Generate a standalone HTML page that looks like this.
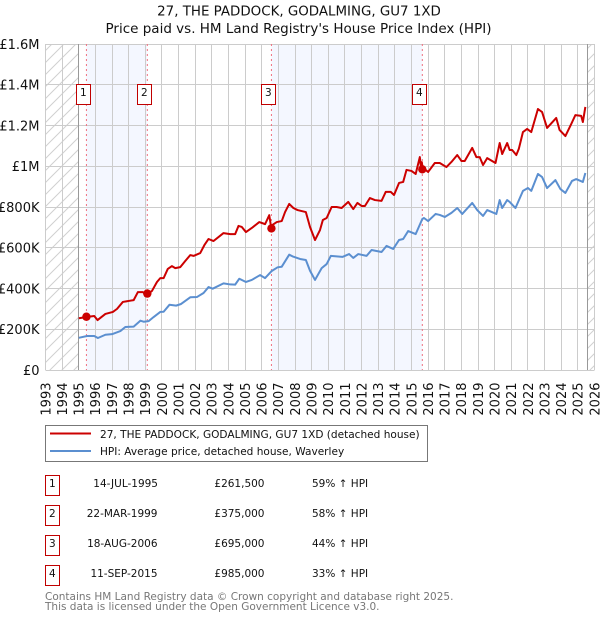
<!DOCTYPE html>
<html lang="en">
<head>
<meta charset="utf-8">
<title>27, THE PADDOCK, GODALMING, GU7 1XD</title>
<style>
html,body{margin:0;padding:0;background:#fff;width:600px;height:620px;overflow:hidden}
svg{display:block;position:absolute;left:0;top:0}
text{font-family:"DejaVu Sans","Liberation Sans",sans-serif;fill:#111}
</style>
</head>
<body>
<svg id="chart" xmlns="http://www.w3.org/2000/svg" width="600" height="620" viewBox="0 0 600 620">
  <defs>
    <pattern id="hatch" width="12" height="12" patternUnits="userSpaceOnUse">
      <path d="M-1 13L13 -1M-3 3L3 -3M9 15L15 9" stroke="#d0d0d0" stroke-width="1" fill="none"/>
    </pattern>
  </defs>
  <text x="299" y="15.5" text-anchor="middle" font-size="13.4">27, THE PADDOCK, GODALMING, GU7 1XD</text>
  <text x="298.5" y="33" text-anchor="middle" font-size="13.5">Price paid vs. HM Land Registry's House Price Index (HPI)</text>
  <g id="plot"></g>

  <g>
    <rect x="45.5" y="425.5" width="382" height="36" fill="#fff" stroke="#777" stroke-width="1"/>
    <line x1="50" x2="91" y1="433.5" y2="433.5" stroke="#cc0000" stroke-width="2"/>
    <text x="100" y="438" font-size="10.55">27, THE PADDOCK, GODALMING, GU7 1XD (detached house)</text>
    <line x1="50" x2="91" y1="451" y2="451" stroke="#5b8fd0" stroke-width="2"/>
    <text x="100" y="455" font-size="10.55">HPI: Average price, detached house, Waverley</text>
  </g>

  <g font-size="10.5">
    <g>
      <rect x="45.5" y="475.5" width="14" height="20" fill="#fff" stroke="#c00000" stroke-width="1"/>
      <text x="52.3" y="487" text-anchor="middle" font-size="10.5">1</text>
      <text x="158" y="487" text-anchor="end" font-size="10.5">14-JUL-1995</text>
      <text x="264.5" y="487" text-anchor="end" font-size="10.5">£261,500</text>
      <text x="312" y="487" font-size="10.5">59% ↑ HPI</text>
    </g>
    <g>
      <rect x="45.5" y="505.5" width="14" height="20" fill="#fff" stroke="#c00000" stroke-width="1"/>
      <text x="52.3" y="517" text-anchor="middle" font-size="10.5">2</text>
      <text x="157.5" y="517" text-anchor="end" font-size="10.5">22-MAR-1999</text>
      <text x="264.5" y="517" text-anchor="end" font-size="10.5">£375,000</text>
      <text x="312" y="517" font-size="10.5">58% ↑ HPI</text>
    </g>
    <g>
      <rect x="45.5" y="535.5" width="14" height="20" fill="#fff" stroke="#c00000" stroke-width="1"/>
      <text x="52.3" y="547" text-anchor="middle" font-size="10.5">3</text>
      <text x="157.5" y="547" text-anchor="end" font-size="10.5">18-AUG-2006</text>
      <text x="264.5" y="547" text-anchor="end" font-size="10.5">£695,000</text>
      <text x="312" y="547" font-size="10.5">44% ↑ HPI</text>
    </g>
    <g>
      <rect x="45.5" y="565.5" width="14" height="20" fill="#fff" stroke="#c00000" stroke-width="1"/>
      <text x="52.3" y="577" text-anchor="middle" font-size="10.5">4</text>
      <text x="157.5" y="577" text-anchor="end" font-size="10.5">11-SEP-2015</text>
      <text x="264.5" y="577" text-anchor="end" font-size="10.5">£985,000</text>
      <text x="312" y="577" font-size="10.5">33% ↑ HPI</text>
    </g>
  </g>

  <text x="45" y="600" font-size="10.5" style="fill:#777">Contains HM Land Registry data © Crown copyright and database right 2025.</text>
  <text x="45" y="610" font-size="10.5" style="fill:#777">This data is licensed under the Open Government Licence v3.0.</text>
</svg>
<script>
const yearTicks = [1993,1994,1995,1996,1997,1998,1999,2000,2001,2002,2003,2004,2005,2006,2007,2008,2009,2010,2011,2012,2013,2014,2015,2016,2017,2018,2019,2020,2021,2022,2023,2024,2025,2026];
const valueTicks = [0,200,400,600,800,1000,1200,1400,1600];
const valueTickLabels = ['£0','£200K','£400K','£600K','£800K','£1M','£1.2M','£1.4M','£1.6M'];

const propertyDates = [1995,1995.46,1995.93,1996.13,1996.6,1997.05,1997.3,1997.65,1998,1998.3,1998.55,1998.85,1999.15,1999.4,1999.7,1999.9,2000.1,2000.35,2000.6,2000.8,2001.1,2001.4,2001.7,2001.9,2002.3,2002.55,2002.8,2003.1,2003.7,2004.1,2004.4,2004.6,2004.8,2005.05,2005.4,2005.85,2006.2,2006.45,2006.55,2006.9,2007.2,2007.4,2007.65,2007.9,2008.15,2008.65,2008.9,2009.2,2009.5,2009.67,2009.9,2010.2,2010.5,2010.8,2011.2,2011.5,2011.75,2012,2012.2,2012.5,2012.8,2013.2,2013.45,2013.75,2013.95,2014.25,2014.5,2014.7,2015,2015.25,2015.5,2015.58,2015.62,2015.7,2015.8,2016,2016.4,2016.7,2017.1,2017.4,2017.75,2018,2018.2,2018.65,2018.9,2019.1,2019.3,2019.55,2020.05,2020.3,2020.45,2020.75,2020.9,2021.05,2021.3,2021.45,2021.7,2021.95,2022.2,2022.6,2022.85,2023.15,2023.7,2023.9,2024.25,2024.6,2024.85,2025.2,2025.3,2025.45];
const propertyValues = [254,260,265,245,275,285,300,334,339,343,382,382,373,388,432,451,451,496,510,500,505,535,564,560,574,613,643,633,672,667,667,707,702,677,697,726,716,760,707,726,731,775,815,795,785,775,702,638,687,736,746,800,800,795,825,790,820,805,805,844,834,830,874,874,859,918,923,982,977,962,1045,985,1020,975,985,972,1016,1016,996,1021,1055,1026,1026,1090,1045,1045,1006,1040,1016,1114,1060,1114,1080,1080,1055,1085,1168,1183,1168,1281,1266,1188,1237,1178,1148,1207,1251,1247,1217,1291];

const hpiDates = [1995,1995.5,1995.93,1996.15,1996.6,1997,1997.5,1997.8,1998.3,1998.7,1998.9,1999.2,1999.5,1999.9,2000.1,2000.45,2000.85,2001.15,2001.7,2002.1,2002.5,2002.8,2003.05,2003.7,2004.1,2004.4,2004.65,2005.05,2005.4,2005.9,2006.2,2006.6,2006.95,2007.2,2007.65,2007.9,2008.3,2008.65,2008.9,2009.2,2009.6,2009.9,2010.15,2010.85,2011.25,2011.5,2011.8,2012.3,2012.6,2013.2,2013.5,2013.9,2014.25,2014.5,2014.8,2015.25,2015.65,2015.75,2016,2016.45,2016.7,2017,2017.4,2017.75,2018.05,2018.65,2018.95,2019.3,2019.55,2020.1,2020.3,2020.45,2020.75,2020.9,2021.25,2021.7,2022,2022.2,2022.6,2022.85,2023.15,2023.65,2023.95,2024.25,2024.65,2024.9,2025.3,2025.45];
const hpiValues = [158,167,167,157,173,176,191,211,213,242,237,240,260,285,286,320,316,324,357,358,378,407,399,425,420,419,448,432,442,466,451,486,504,507,566,556,545,540,487,442,500,520,560,555,569,550,569,560,589,579,609,594,638,643,682,667,741,746,731,766,761,751,771,795,766,820,785,756,785,766,834,795,834,825,795,879,893,879,962,947,893,932,888,869,928,937,923,967];

const saleDates = [1995.46,1999.12,2006.58,2015.65];
const salePrices = [261.5,375,695,985];
const saleNumbers = ['1','2','3','4'];

const SVGNS = 'http://www.w3.org/2000/svg';
const plot = document.getElementById('plot');
const xMin = 1993, xMax = 2026, yMax = 1600;
const left = 45.5, right = 594.5, top_ = 44, bottom = 370;
const dataStart = 1995, dataEnd = 2025.55;

function xScale(year){ return left + (year - xMin) / (xMax - xMin) * (right - left); }
function yScale(v){ return bottom - v / yMax * (bottom - top_); }
function make(tag){ return document.createElementNS(SVGNS, tag); }
function pathFrom(dates, values){
  return dates.map(function(d, i){
    return (i ? 'L' : 'M') + xScale(d).toFixed(2) + ' ' + yScale(values[i]).toFixed(2);
  }).join('');
}

// Shaded bands between alternating sales
[[0,1],[2,3]].forEach(function(pair){
  const r = make('rect');
  
  
  r.setAttribute('x', xScale(saleDates[pair[0]]));
  r.setAttribute('y', top_);
  r.setAttribute('width', xScale(saleDates[pair[1]]) - xScale(saleDates[pair[0]]));
  r.setAttribute('height', bottom - top_);
  r.setAttribute('fill', '#f4f7ff');
  plot.appendChild(r);
});

// Hatched no-data regions
[[xMin,dataStart],[dataEnd,xMax]].forEach(function(span){
  const r = make('rect');
  
  
  r.setAttribute('x', xScale(span[0]));
  r.setAttribute('y', top_);
  r.setAttribute('width', xScale(span[1]) - xScale(span[0]));
  r.setAttribute('height', bottom - top_);
  r.setAttribute('fill', 'url(#hatch)');
  plot.appendChild(r);
});

// Vertical grid and x labels
yearTicks.forEach(function(year){
  const x = Math.round(xScale(year) - 0.5) + 0.5;
  const g = make('line');
  
  
  g.setAttribute('x1', x);
  g.setAttribute('x2', x);
  g.setAttribute('y1', top_);
  g.setAttribute('y2', bottom);
  g.setAttribute('stroke', '#cccccc');
  g.setAttribute('stroke-width', '1');
  plot.appendChild(g);
  const t = make('text');
  
  
  t.setAttribute('font-size', '13');
  t.setAttribute('text-anchor', 'end');
  t.setAttribute('transform', 'translate(' + (xScale(year) + 4.8) + ',382.5) rotate(-90)');
  t.textContent = String(year);
  plot.appendChild(t);
});

// Horizontal grid and y labels
valueTicks.forEach(function(v, i){
  const y = Math.round(yScale(v) - 0.5) + 0.5;
  const g = make('line');
  
  
  g.setAttribute('x1', left);
  g.setAttribute('x2', right);
  g.setAttribute('y1', y);
  g.setAttribute('y2', y);
  g.setAttribute('stroke', '#cccccc');
  g.setAttribute('stroke-width', '1');
  plot.appendChild(g);
  const t = make('text');
  
  
  t.setAttribute('font-size', '13');
  t.setAttribute('text-anchor', 'end');
  t.setAttribute('x', 39.5);
  t.setAttribute('y', yScale(v) + 4.8);
  t.textContent = valueTickLabels[i];
  plot.appendChild(t);
});

// Data range boundaries
[dataStart,dataEnd].forEach(function(year){
  const b = make('line');
  
  
  b.setAttribute('x1', Math.round(xScale(year) - 0.5) + 0.5);
  b.setAttribute('x2', Math.round(xScale(year) - 0.5) + 0.5);
  b.setAttribute('y1', top_);
  b.setAttribute('y2', bottom);
  b.setAttribute('stroke', '#999');
  b.setAttribute('stroke-width', '1');
  plot.appendChild(b);
});

// Dashed sale markers
saleDates.forEach(function(d){
  const l = make('line');
  
  
  l.setAttribute('x1', xScale(d));
  l.setAttribute('x2', xScale(d));
  l.setAttribute('y1', top_);
  l.setAttribute('y2', bottom);
  l.setAttribute('stroke', '#f0707f');
  l.setAttribute('stroke-width', '1');
  l.setAttribute('stroke-dasharray', '2 3');
  plot.appendChild(l);
});

// Series
const hpiLine = make('path');


hpiLine.setAttribute('d', pathFrom(hpiDates, hpiValues));
hpiLine.setAttribute('fill', 'none');
hpiLine.setAttribute('stroke', '#5b8fd0');
hpiLine.setAttribute('stroke-width', '2');
hpiLine.setAttribute('stroke-linejoin', 'round');
plot.appendChild(hpiLine);

const propertyLine = make('path');


propertyLine.setAttribute('d', pathFrom(propertyDates, propertyValues));
propertyLine.setAttribute('fill', 'none');
propertyLine.setAttribute('stroke', '#cc0000');
propertyLine.setAttribute('stroke-width', '2');
propertyLine.setAttribute('stroke-linejoin', 'round');
plot.appendChild(propertyLine);

// Sale points and number badges
saleDates.forEach(function(d, i){
  const c = make('circle');
  
  
  c.setAttribute('cx', xScale(d));
  c.setAttribute('cy', yScale(salePrices[i]));
  c.setAttribute('r', '4.2');
  c.setAttribute('fill', '#cc0000');
  plot.appendChild(c);
  const cx = xScale(d) - 2.8;
  const b = make('rect');
  
  
  b.setAttribute('x', Math.round(cx - 7.5) + 0.5);
  b.setAttribute('y', 84.5);
  b.setAttribute('width', 14);
  b.setAttribute('height', 20);
  b.setAttribute('fill', '#fff');
  b.setAttribute('stroke', '#c00000');
  b.setAttribute('stroke-width', '1');
  plot.appendChild(b);
  const t = make('text');
  
  
  t.setAttribute('x', Math.round(cx - 7.5) + 7.3);
  t.setAttribute('y', 96);
  t.setAttribute('text-anchor', 'middle');
  t.setAttribute('font-size', '10.5');
  t.textContent = saleNumbers[i];
  plot.appendChild(t);
});
</script>
</body>
</html>
